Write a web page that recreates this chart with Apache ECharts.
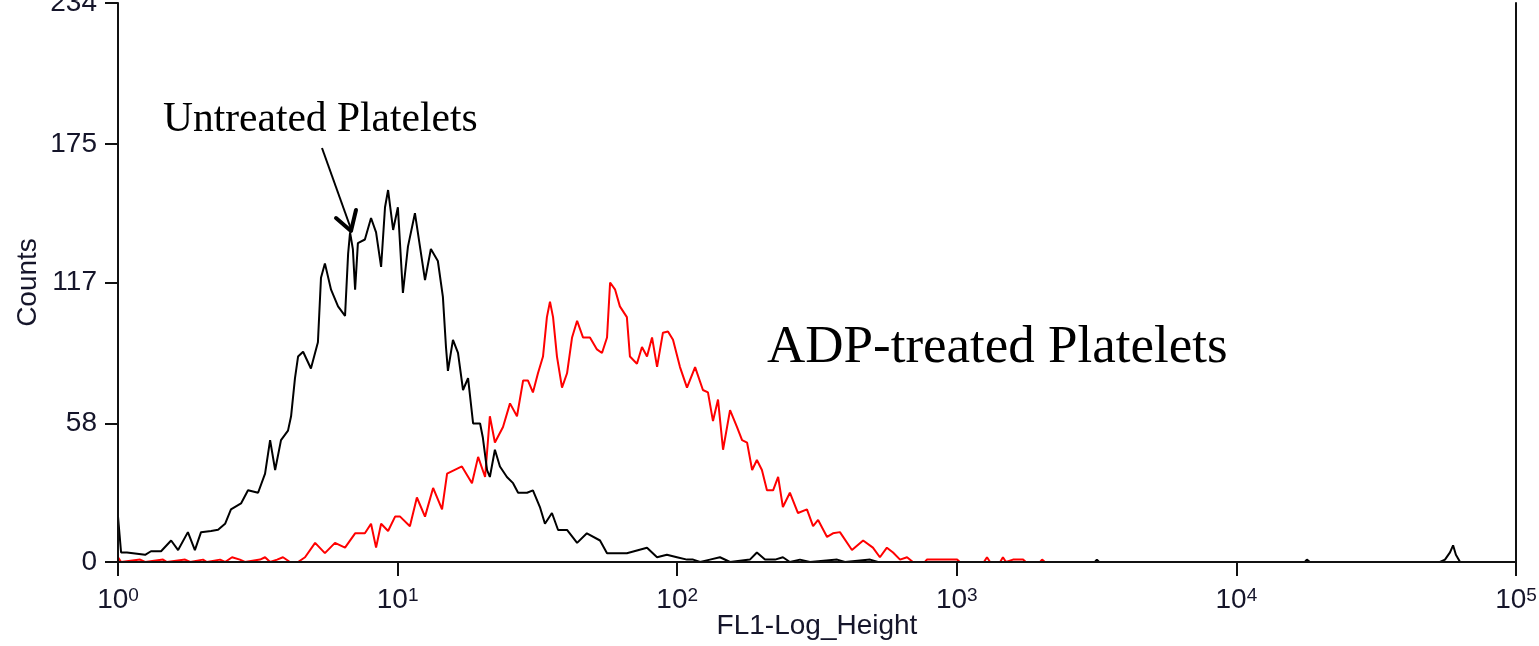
<!DOCTYPE html>
<html lang="en">
<head>
    <meta charset="UTF-8">
    <title>FL1 histogram</title>
    <script src="https://cdn.jsdelivr.net/npm/echarts@6/dist/echarts.min.js"></script>
    <style>
        html, body { margin: 0; padding: 0; background: #fff; }
        #chart { width: 1539px; height: 646px; }
    </style>
</head>
<body>
    <div id="chart"></div>
</body>
<script type="text/javascript">
    // channel positions are given in decades (log10 of FL1 height)
    var untreatedLog = [0.000, 0.011, 0.032, 0.097, 0.118, 0.154, 0.190, 0.215, 0.250, 0.275,
        0.297, 0.333, 0.358, 0.383, 0.404, 0.440, 0.465, 0.501, 0.526, 0.544,
        0.562, 0.583, 0.608, 0.619, 0.633, 0.644, 0.662, 0.690, 0.715, 0.726,
        0.740, 0.762, 0.787, 0.812, 0.823, 0.830, 0.840, 0.848, 0.858, 0.883,
        0.905, 0.923, 0.941, 0.955, 0.966, 0.984, 1.001, 1.019, 1.037, 1.062,
        1.080, 1.098, 1.119, 1.144, 1.162, 1.173, 1.180, 1.198, 1.216, 1.234,
        1.252, 1.270, 1.295, 1.305, 1.320, 1.330, 1.348, 1.366, 1.391, 1.413,
        1.431, 1.463, 1.484, 1.509, 1.527, 1.552, 1.574, 1.606, 1.642, 1.677,
        1.724, 1.749, 1.820, 1.892, 1.928, 1.963, 1.999, 2.035, 2.057, 2.082,
        2.117, 2.153, 2.189, 2.260, 2.285, 2.314, 2.350, 2.378, 2.403, 2.439,
        2.475, 2.572, 2.600, 2.690, 2.718, 3.494, 3.501, 3.509, 4.245, 4.252,
        4.263, 4.728, 4.746, 4.764, 4.775, 4.785, 4.800, 5.000];
    var untreatedCounts = [19, 4, 4, 3, 4.5, 4.5, 9, 5, 12.5, 5,
        12.5, 13, 13.5, 16, 22, 24.5, 30, 29, 37, 51,
        38.5, 51, 55, 61, 77, 86, 88, 81, 92, 119,
        125, 114, 107, 103, 129, 138, 131, 114, 133.5, 135,
        144, 138, 123.5, 148.5, 155.7, 139, 148.5, 112.6, 132, 146,
        132, 118, 131, 126, 111, 90, 80, 93, 87.5, 72,
        77, 58, 58, 52, 38.5, 35.6, 47, 40, 35.6, 33,
        29, 29, 30, 23, 16, 20.5, 13.4, 13.4, 8, 12,
        9, 3.7, 3.7, 6, 2, 3, 2, 1, 1, 0,
        1, 2, 0, 1, 4, 1, 1, 2, 0, 1,
        0, 1, 0, 1, 0, 0, 1, 0, 0, 1,
        0, 0, 1, 4, 7, 3, 0, 0];

    var adpLog = [0.000, 0.011, 0.079, 0.097, 0.161, 0.175, 0.240, 0.258, 0.304, 0.318,
        0.365, 0.383, 0.408, 0.436, 0.454, 0.508, 0.526, 0.544, 0.569, 0.590,
        0.615, 0.644, 0.669, 0.705, 0.740, 0.776, 0.812, 0.848, 0.883, 0.905,
        0.923, 0.941, 0.966, 0.991, 1.009, 1.044, 1.069, 1.098, 1.127, 1.159,
        1.177, 1.230, 1.266, 1.288, 1.313, 1.330, 1.348, 1.377, 1.402, 1.427,
        1.449, 1.466, 1.484, 1.502, 1.520, 1.534, 1.545, 1.556, 1.570, 1.588,
        1.606, 1.624, 1.642, 1.663, 1.688, 1.713, 1.731, 1.749, 1.760, 1.778,
        1.795, 1.820, 1.831, 1.856, 1.874, 1.892, 1.910, 1.928, 1.949, 1.967,
        1.985, 2.010, 2.035, 2.064, 2.092, 2.110, 2.128, 2.146, 2.164, 2.189,
        2.214, 2.232, 2.250, 2.268, 2.285, 2.303, 2.321, 2.343, 2.361, 2.378,
        2.403, 2.432, 2.464, 2.486, 2.504, 2.536, 2.557, 2.582, 2.625, 2.665,
        2.700, 2.725, 2.750, 2.772, 2.797, 2.822, 2.843, 2.886, 2.893, 3.001,
        3.011, 3.097, 3.108, 3.119, 3.155, 3.165, 3.176, 3.201, 3.237, 3.247,
        3.298, 3.305, 3.315];
    var adpCounts = [2, 0, 1, 0, 1, 0, 1, 0, 1, 0,
        1, 0, 2, 1, 0, 1, 2, 0, 1, 2,
        0, 0, 2, 8, 3.7, 8, 6, 12, 12, 16,
        6, 16, 13, 19, 19, 15, 27, 19, 31, 22,
        37, 40, 33, 44, 35.6, 61, 50, 56.5, 66.4, 61,
        76, 76, 71, 79, 86, 102.5, 109, 102.5, 86, 73,
        79, 94, 101, 94, 94, 89, 87.5, 94, 117, 114,
        107, 102.5, 86, 83, 90, 86, 94, 81.7, 96, 96.5,
        93, 81.6, 73, 81.6, 72, 71, 59, 68, 47, 63.6,
        56.5, 51, 50, 38.5, 42.7, 38.5, 30, 30, 35.6, 23,
        29, 20.5, 22, 15, 17.6, 10.5, 12, 12.5, 5, 9,
        6, 2, 6, 4, 1, 2, 0, 0, 1, 1,
        0, 0, 2, 0, 0, 2, 0, 1, 1, 0,
        0, 1, 0];

    var decades = [0, 1, 2, 3, 4, 5];
    var countTicks = [0, 58, 117, 175, 234];

    function toPoints(logs, counts) {
        return logs.map(function (e, i) {
            return [Math.pow(10, e), counts[i]];
        });
    }

    var chartDom = document.getElementById('chart');
    var myChart = echarts.init(chartDom, null, { renderer: 'canvas' });
    var tickFont = 'Liberation Sans, Arial, sans-serif';
    var axisColor = '#111';
    var labelColor = '#15152a';

    var option = {
        animation: false,
        grid: { left: 118, right: 23, top: 3, bottom: 84, containLabel: false, outerBoundsMode: 'none' },
        xAxis: {
            type: 'log',
            logBase: 10,
            min: Math.pow(10, decades[0]),
            max: Math.pow(10, decades[decades.length - 1]),
            z: 5,
            name: 'FL1-Log_Height',
            nameLocation: 'middle',
            nameGap: 50,
            nameMoveOverlap: false,
            nameTextStyle: { fontFamily: tickFont, fontSize: 28, color: labelColor },
            axisLine: { show: true, onZero: false, lineStyle: { color: axisColor, width: 2 } },
            axisTick: { show: true, length: 14, lineStyle: { color: axisColor, width: 2 } },
            minorTick: { show: false },
            splitLine: { show: false },
            axisLabel: {
                margin: 24,
                formatter: function (v) {
                    var n = Math.round(Math.log(v) / Math.LN10);
                    return '{a|10}{b|' + n + '}';
                },
                rich: {
                    a: { fontFamily: tickFont, fontSize: 28, color: labelColor, lineHeight: 28, verticalAlign: 'top' },
                    b: { fontFamily: tickFont, fontSize: 19, color: labelColor, lineHeight: 19, verticalAlign: 'top' }
                }
            }
        },
        yAxis: [{
            type: 'value',
            min: countTicks[0],
            max: countTicks[countTicks.length - 1],
            z: 5,
            name: 'Counts',
            nameLocation: 'middle',
            nameGap: 76,
            nameRotate: 90,
            nameMoveOverlap: false,
            nameTextStyle: { fontFamily: tickFont, fontSize: 28, color: labelColor },
            axisLine: { show: true, lineStyle: { color: axisColor, width: 2 } },
            axisTick: { show: true, length: 13, customValues: countTicks, lineStyle: { color: axisColor, width: 2 } },
            splitLine: { show: false },
            axisLabel: {
                margin: 21,
                customValues: countTicks,
                fontFamily: tickFont,
                fontSize: 28,
                color: labelColor
            }
        }, {
            type: 'value',
            position: 'right',
            min: countTicks[0],
            max: countTicks[countTicks.length - 1],
            z: 5,
            axisLine: { show: true, lineStyle: { color: axisColor, width: 2 } },
            axisTick: { show: false },
            axisLabel: { show: false },
            splitLine: { show: false }
        }],
        series: [
            {
                name: 'ADP-treated Platelets',
                type: 'line',
                yAxisIndex: 0,
                data: toPoints(adpLog, adpCounts),
                showSymbol: false,
                lineStyle: { color: '#ff0000', width: 2 },
                z: 2
            },
            {
                name: 'Untreated Platelets',
                type: 'line',
                yAxisIndex: 0,
                data: toPoints(untreatedLog, untreatedCounts),
                showSymbol: false,
                lineStyle: { color: '#000000', width: 2 },
                z: 3
            }
        ],
        graphic: [
            {
                type: 'text',
                x: 163, y: 120,
                style: {
                    text: 'Untreated Platelets',
                    font: '41.5px "Liberation Serif", "Times New Roman", serif',
                    fill: '#000',
                    verticalAlign: 'middle'
                }
            },
            {
                type: 'text',
                x: 767, y: 348,
                style: {
                    text: 'ADP-treated Platelets',
                    font: '53px "Liberation Serif", "Times New Roman", serif',
                    fill: '#000',
                    verticalAlign: 'middle'
                }
            },
            {
                type: 'polyline',
                shape: { points: [[322, 148], [351, 229]] },
                style: { stroke: '#000', lineWidth: 2, fill: null }
            },
            {
                type: 'polyline',
                shape: { points: [[336, 218], [351, 231], [356, 210]] },
                style: { stroke: '#000', lineWidth: 4, fill: null, lineJoin: 'round', lineCap: 'round' }
            }
        ]
    };

    myChart.setOption(option);
</script>
</html>
